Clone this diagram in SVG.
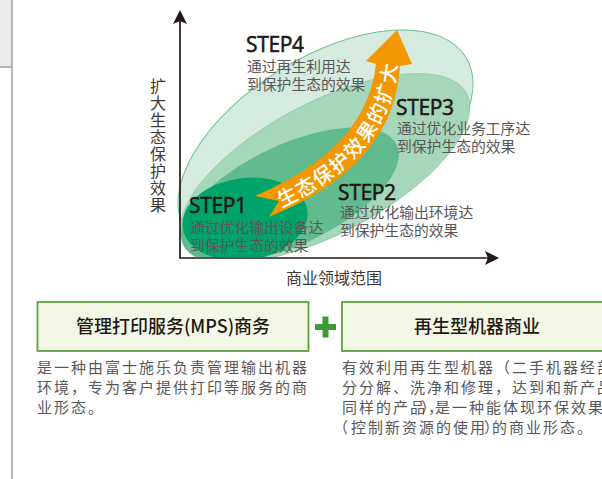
<svg xmlns="http://www.w3.org/2000/svg" width="602" height="479" viewBox="0 0 602 479">
<defs>
<style>
.step{font-family:"Noto Sans","Open Sans",sans-serif;font-size:21px;fill:#231815;stroke:#231815;stroke-width:0.45px;letter-spacing:-0.4px}
.sub{font-family:"Noto Sans CJK SC",sans-serif;font-size:14.8px;fill:#595757}
.ax{font-family:"Noto Sans CJK SC",sans-serif;font-size:16px;fill:#3e3a39}
.boxt{font-family:"Noto Sans CJK SC",sans-serif;font-size:18px;font-weight:500;fill:#231815;text-anchor:middle}
.desc{font-family:"Noto Sans CJK SC",sans-serif;font-size:15px;fill:#595757;letter-spacing:2px}
.box{fill:#f3f7e6;stroke:#5ba441;stroke-width:1.8}
</style>
<clipPath id="plot"><rect x="150" y="0" width="400" height="257"/></clipPath>
<path id="band" d="M263,206 C320,182 381.5,142.5 388,65"/>
</defs>
<rect width="602" height="479" fill="#ffffff"/>
<g id="sidepanel">
<rect x="0" y="0" width="12" height="67" fill="#ececec"/>
<line x1="0" y1="67" x2="12" y2="67" stroke="#8c8c8c" stroke-width="1.2"/>
<line x1="12" y1="0" x2="12" y2="479" stroke="#a0a0a0" stroke-width="1.5"/>
</g>
<g id="ellipses" clip-path="url(#plot)">
<ellipse cx="325.5" cy="143.5" rx="164.8" ry="86.5" transform="rotate(-31.6 325.5 143.5)" fill="#d5ebdf" stroke="#6fc296" stroke-width="1"/>
<ellipse cx="325" cy="168" rx="160" ry="65.5" transform="rotate(-27.8 325 168)" fill="#a7d7bb" stroke="#8ccca8" stroke-width="0.8"/>
<ellipse cx="290" cy="195" rx="118" ry="50" transform="rotate(-25.2 290 195)" fill="#62bb8f"/>
<ellipse cx="245" cy="219" rx="63" ry="41" transform="rotate(-8 245 219)" fill="#00a46b"/>
</g>
<g id="growth-arrow">
<path d="M255,196 C310,172 368,135 376,64 L366,61 L397,30 L412,64 L400,66 C395,150 330,192 269,217 L279,201 Z" fill="#f39800"/>
<text font-family="'Noto Sans CJK SC',sans-serif" font-size="20" font-weight="500" fill="#ffffff" letter-spacing="0.6" dominant-baseline="central"><textPath href="#band" startOffset="16">生态保护效果的扩大</textPath></text>
</g>
<g id="axes" stroke="#231815" fill="#231815">
<line x1="180" y1="258" x2="180" y2="20" stroke-width="1.7"/>
<line x1="179.2" y1="258" x2="489" y2="258" stroke-width="1.7"/>
<polygon points="180,10 187,24 180,21 173,24" stroke="none"/>
<polygon points="499,258 485,251 488,258 485,265" stroke="none"/>
</g>
<g id="axis-labels">
<text class="ax" text-anchor="middle"><tspan x="158" y="92">扩</tspan><tspan x="158" y="109">大</tspan><tspan x="158" y="126">生</tspan><tspan x="158" y="143">态</tspan><tspan x="158" y="160">保</tspan><tspan x="158" y="177">护</tspan><tspan x="158" y="194">效</tspan><tspan x="158" y="211">果</tspan></text>
<text class="ax" x="334" y="284" text-anchor="middle">商业领域范围</text>
</g>
<g id="step4">
<text class="step" x="246" y="52">STEP4</text>
<text class="sub" x="247" y="72">通过再生利用达</text>
<text class="sub" x="247" y="90">到保护生态的效果</text>
</g>
<g id="step3">
<text class="step" x="396" y="115">STEP3</text>
<text class="sub" x="397" y="134">通过优化业务工序达</text>
<text class="sub" x="397" y="152">到保护生态的效果</text>
</g>
<g id="step2">
<text class="step" x="338" y="200">STEP2</text>
<text class="sub" x="340" y="218">通过优化输出环境达</text>
<text class="sub" x="340" y="236">到保护生态的效果</text>
</g>
<g id="step1">
<text class="step" x="189" y="213">STEP1</text>
<text class="sub" x="190" y="233">通过优化输出设备达</text>
<text class="sub" x="190" y="251">到保护生态的效果</text>
</g>
<g id="mps">
<rect class="box" x="37.5" y="302" width="271" height="49"/>
<text class="boxt" x="173" y="333">管理打印服务(MPS)商务</text>
<text class="desc"><tspan x="37" y="373">是一种由富士施乐负责管理输出机器</tspan><tspan x="37" y="393">环境，专为客户提供打印等服务的商</tspan><tspan x="37" y="413">业形态。</tspan></text>
</g>
<g id="plus" fill="#3e9a38">
<rect x="315" y="324" width="21" height="6"/>
<rect x="322.5" y="316.5" width="6" height="21"/>
</g>
<g id="remanufacture">
<rect class="box" x="342" y="302" width="300" height="49"/>
<text class="boxt" x="477" y="333">再生型机器商业</text>
<text class="desc"><tspan x="342" y="373">有效利用再生型机器（二手机器经部</tspan><tspan x="342" y="393">分分解、洗净和修理，达到和新产品</tspan><tspan x="342" y="413">同样的产品</tspan><tspan x="421" y="413">）</tspan><tspan x="428" y="413">，</tspan><tspan x="435" y="413">是一种能体现环保效果</tspan><tspan x="333" y="433">（</tspan><tspan x="351" y="433">控制新资源的使用</tspan><tspan x="484" y="433">）</tspan><tspan x="492" y="433">的商业形态。</tspan></text>
</g>
</svg>
